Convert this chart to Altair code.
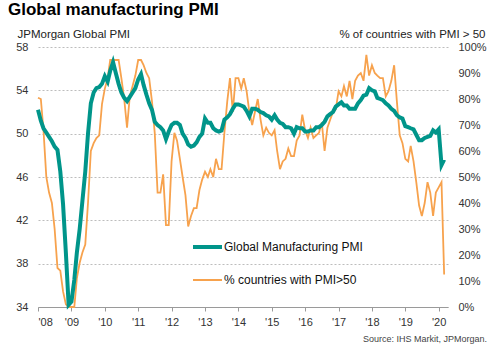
import altair as alt
import pandas as pd

# ---- data (monthly, Jan 2008 - Mar 2020) ----
months = pd.date_range("2008-01-01", "2020-03-01", freq="MS")

pmi = [
    52.2, 51.2, 50.5, 50.1, 49.7, 49.3, 48.8, 48.5, 46.5, 43.5, 39.0, 34.2,  # 2008
    34.5, 36.5, 39.0, 41.2, 43.8, 46.5, 50.0, 52.8, 53.8, 54.2, 54.3, 54.6,  # 2009
    55.3, 54.8, 55.8, 56.6, 55.6, 54.6, 53.8, 53.3, 53.0, 53.4, 53.8, 54.2,  # 2010
    55.0, 55.5, 54.5, 53.6, 52.8, 52.2, 51.1, 50.8, 50.6, 50.3, 49.5, 50.2,  # 2011
    50.8, 51.0, 51.0, 50.8, 50.0, 49.6, 49.0, 48.8, 48.9, 49.2, 49.7, 50.0,  # 2012
    51.4, 51.0, 51.0, 50.5, 50.3, 50.2, 50.3, 51.3, 51.5, 51.8, 52.3, 52.7,  # 2013
    52.7, 52.6, 52.5, 52.1, 51.6, 52.3, 52.3, 52.2, 52.0, 51.9, 51.7, 51.6,  # 2014
    51.3, 51.7, 51.3, 51.0, 50.9, 50.6, 50.6, 50.5, 50.0, 50.6, 50.5, 50.5,  # 2015
    50.2, 50.2, 50.3, 50.3, 50.6, 50.6, 50.8, 51.1, 51.6, 51.8, 52.0, 52.5,  # 2016
    52.7, 52.9, 52.6, 52.6, 52.3, 52.3, 52.3, 52.8, 53.1, 53.5, 53.6, 54.2,  # 2017
    54.0, 53.9, 53.3, 53.2, 53.1, 52.8, 52.6, 52.3, 52.1, 51.7, 51.5, 51.4,  # 2018
    50.7, 50.6, 50.5, 50.4, 49.9, 49.4, 49.4, 49.6, 49.7, 49.8, 50.3, 50.1,  # 2019
    50.4, 47.1, 47.6,                                                        # 2020
]

pct = [
    80.5, 80.0, 68.0, 50.0, 44.0, 40.0, 30.0, 15.0, 14.0, 6.0, 1.0, 0.0,    # 2008
    0.0, 0.0, 11.0, 17.0, 21.0, 24.0, 40.0, 60.0, 63.0, 65.0, 66.0, 78.0,   # 2009
    84.0, 88.0, 95.0, 95.0, 95.0, 95.0, 88.0, 80.0, 69.0, 81.0, 85.0, 89.0, # 2010
    95.0, 95.0, 93.0, 90.0, 88.0, 79.0, 67.0, 44.0, 44.0, 51.0, 31.5, 31.5, # 2011
    56.0, 67.0, 64.0, 57.0, 50.0, 43.0, 31.0, 35.0, 38.0, 38.0, 45.0, 49.0, # 2012
    52.0, 50.0, 53.0, 50.0, 57.0, 53.0, 53.0, 67.0, 79.0, 88.0, 75.0, 88.0, # 2013
    88.0, 84.0, 88.0, 83.0, 75.0, 70.0, 75.0, 80.0, 72.0, 66.0, 69.0, 67.0, # 2014
    66.0, 68.0, 60.0, 53.0, 56.0, 57.0, 61.0, 58.0, 58.0, 64.0, 66.0, 74.0, # 2015
    68.0, 65.0, 69.0, 65.0, 66.0, 67.0, 71.0, 60.0, 69.0, 72.0, 75.0, 76.0, # 2016
    83.0, 81.0, 85.0, 81.0, 87.0, 80.0, 87.0, 89.0, 90.0, 87.0, 97.0, 89.0, # 2017
    93.0, 90.0, 89.0, 88.0, 88.0, 81.0, 83.0, 87.0, 93.0, 79.0, 66.0, 63.0, # 2018
    57.0, 56.0, 62.0, 56.0, 48.0, 39.0, 35.0, 40.0, 48.0, 44.0, 35.0, 44.0, # 2019
    46.0, 48.0, 12.5,                                                       # 2020
]

years = list(range(2008, 2021))
pmi_ticks = [34, 38, 42, 46, 50, 54, 58]
pct_ticks = [0, 10, 20, 30, 40, 50, 60, 70, 80, 90, 100]

series_names = ["Global Manufacturing PMI", "% countries with PMI>50"]
series_colors = ["#00958A", "#F7A24D"]

FONT = "Liberation Sans"
TEAL, ORANGE = series_colors

df = pd.DataFrame({"date": months, "pmi": pmi, "pct": pct})

x_enc = alt.X(
    "date:T",
    scale=alt.Scale(domain=[alt.DateTime(year=2008, month=1, date=1),
                            alt.DateTime(year=2020, month=4, date=12)]),
    axis=alt.Axis(
        values=[alt.DateTime(year=y, month=1, date=1) for y in years],
        format="'%y", title=None, grid=False,
        domainColor="#9a9a9a", domainWidth=1, tickColor="#9a9a9a",
        tickSize=4, labelPadding=5, labelFontSize=11, labelColor="#333333",
        labelFont=FONT,
    ),
)

base = alt.Chart(df)

orange_line = base.mark_line(color=ORANGE, strokeWidth=1.8, clip=False).encode(
    x=x_enc,
    y=alt.Y(
        "pct:Q",
        scale=alt.Scale(domain=[0, 100], nice=False, zero=False),
        axis=alt.Axis(
            orient="right", values=pct_ticks, labelExpr="datum.value + '%'",
            grid=False, domain=False, ticks=False, labelPadding=10,
            labelFontSize=11, labelColor="#333333", labelFont=FONT,
            title="% of countries with  PMI > 50", titleAngle=0, titleX=37,
            titleY=-13, titleAlign="right", titleBaseline="middle",
            titleFontWeight="normal", titleFontSize=11.5, titleColor="#222222",
            titleFont=FONT,
        ),
    ),
)

teal_line = base.mark_line(color=TEAL, strokeWidth=4, clip=False).encode(
    x=x_enc,
    y=alt.Y(
        "pmi:Q",
        scale=alt.Scale(domain=[34, 58], nice=False, zero=False),
        axis=alt.Axis(
            orient="left", values=pmi_ticks, grid=True, gridDash=[2, 2],
            gridColor="#bdbdbd", gridWidth=1, domain=False, ticks=False,
            labelPadding=10, labelFontSize=11, labelColor="#333333",
            labelFont=FONT,
            title="JPMorgan Global PMI", titleAngle=0, titleX=-21, titleY=-13,
            titleAlign="left", titleBaseline="middle", titleFontWeight="normal",
            titleFontSize=11.5, titleColor="#222222", titleFont=FONT,
        ),
    ),
)

# ---- manual legend ----
leg1 = alt.Chart(pd.DataFrame({"t": [series_names[0]]})).mark_rule(
    color=TEAL, strokeWidth=4).encode(
    x=alt.value(155), x2=alt.value(184), y=alt.value(200))
leg1t = alt.Chart(pd.DataFrame({"t": [series_names[0]]})).mark_text(
    align="left", baseline="middle", fontSize=12, font=FONT, color="#111111").encode(
    text="t:N", x=alt.value(186), y=alt.value(200))
leg2 = alt.Chart(pd.DataFrame({"t": [series_names[1]]})).mark_rule(
    color=ORANGE, strokeWidth=2).encode(
    x=alt.value(155), x2=alt.value(184), y=alt.value(233))
leg2t = alt.Chart(pd.DataFrame({"t": [series_names[1]]})).mark_text(
    align="left", baseline="middle", fontSize=12, font=FONT, color="#111111").encode(
    text="t:N", x=alt.value(186), y=alt.value(233))

# ---- title and source ----
title = alt.Chart(pd.DataFrame({"t": ["Global manufacturing PMI"]})).mark_text(
    align="left", baseline="alphabetic", fontSize=17, fontWeight="bold",
    font=FONT, color="#000000").encode(
    text="t:N", x=alt.value(-30), y=alt.value(-32))
source = alt.Chart(pd.DataFrame({"t": ["Source: IHS Markit, JPMorgan."]})).mark_text(
    align="right", baseline="middle", fontSize=9, font=FONT, color="#444444").encode(
    text="t:N", x=alt.value(449), y=alt.value(32 + 260))

chart = alt.layer(
    orange_line, teal_line, leg1, leg1t, leg2, leg2t, title, source
).resolve_scale(y="independent").properties(
    width=410, height=260,
    padding={"left": 38, "top": 47, "right": 52, "bottom": 44},
    autosize=alt.AutoSizeParams(type="none"),
    background="white",
).configure_view(stroke=None)

chart.save("out.html", embed_options={"renderer": "svg", "actions": False})
